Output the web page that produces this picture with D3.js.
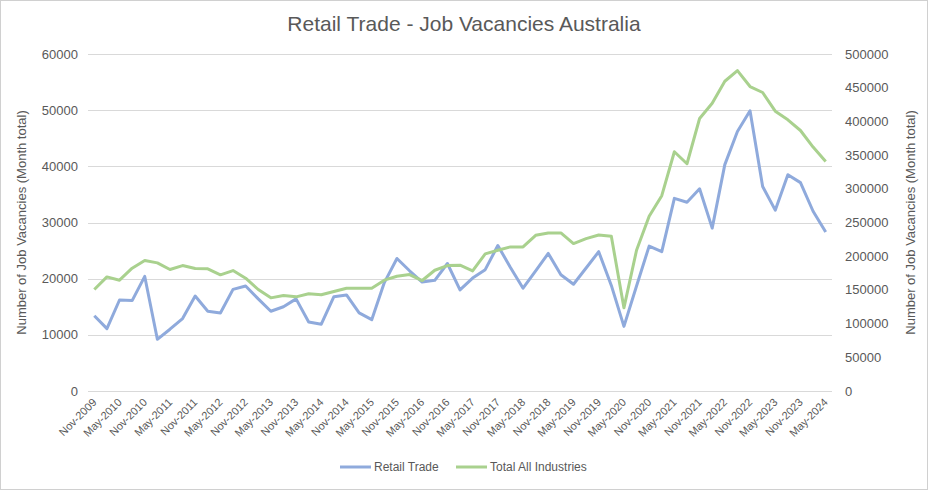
<!DOCTYPE html>
<html>
<head>
<meta charset="utf-8">
<script src="https://cdn.jsdelivr.net/npm/d3@7"></script>
<style>
  body { margin: 0; background: #fff; }
  svg { font-family: "Liberation Sans", Arial, sans-serif; }
</style>
</head>
<body>
<div id="chart"></div>
<script>
// quarterly, Nov-2009 .. May-2024
var monthNames = ["Jan","Feb","Mar","Apr","May","Jun","Jul","Aug","Sep","Oct","Nov","Dec"];
var quarters = [];
for (var i = 0; i < 59; i++) {
  var m = 10 + i * 3; // months since Jan-2009 (Nov = 10)
  quarters.push(monthNames[m % 12] + "-" + (2009 + Math.floor(m / 12)));
}

var retail = [13400, 11100, 16200, 16100, 20400, 9200, 11000, 12900, 16900, 14200,
              13900, 18100, 18700, 16400, 14200, 15000, 16400, 12300, 11900, 16800,
              17100, 13900, 12700, 19300, 23600, 21400, 19400, 19700, 22700, 18000,
              20100, 21600, 25900, 22000, 18300, 21400, 24500, 20700, 19000, 21900,
              24800, 18800, 11500, 18700, 25800, 24800, 34300, 33600, 36000, 29000,
              40300, 46200, 49900, 36400, 32200, 38500, 37100, 32000, 28300];

var total = [150600, 169300, 164400, 182200, 193500, 190100, 180200, 186100, 181700, 181200,
             172300, 178700, 167400, 150600, 138200, 141700, 139700, 144200, 142700, 147600,
             152500, 152500, 152500, 164400, 170300, 172800, 163900, 179200, 186100, 186600,
             178200, 203400, 208800, 213800, 213800, 231000, 234500, 234500, 218700, 226100,
             231500, 229600, 123400, 208800, 259200, 289800, 355000, 337200, 404300, 427000,
             459600, 475400, 451700, 442900, 415200, 402400, 386500, 361900, 340600];

var leftTicks = [0, 10000, 20000, 30000, 40000, 50000, 60000];
var rightTicks = [0, 50000, 100000, 150000, 200000, 250000, 300000, 350000, 400000, 450000, 500000];

var width = 928, height = 490;
var margin = {top: 54, right: 96, bottom: 99, left: 88};
var textCol = "#595959";

var svg = d3.select("#chart").append("svg")
    .attr("width", width)
    .attr("height", height);

svg.append("rect")
    .attr("x", 0.5).attr("y", 0.5)
    .attr("width", width - 1).attr("height", height - 1)
    .attr("fill", "#fff")
    .attr("stroke", "#d0d0d0");

var x = d3.scalePoint()
    .domain(quarters)
    .range([margin.left, width - margin.right])
    .padding(0.5);

var yL = d3.scaleLinear().domain([0, 60000]).range([height - margin.bottom, margin.top]);
var yR = d3.scaleLinear().domain([0, 500000]).range([height - margin.bottom, margin.top]);

// gridlines
svg.append("g")
  .selectAll("line")
  .data(leftTicks)
  .enter().append("line")
    .attr("x1", margin.left)
    .attr("x2", width - margin.right)
    .attr("y1", function(d) { return Math.round(yL(d)) + 0.5; })
    .attr("y2", function(d) { return Math.round(yL(d)) + 0.5; })
    .attr("stroke", "#d9d9d9")
    .attr("stroke-width", 1);

// left axis labels
svg.append("g")
  .selectAll("text")
  .data(leftTicks)
  .enter().append("text")
    .attr("x", 78)
    .attr("y", function(d) { return yL(d); })
    .attr("dy", "0.35em")
    .attr("text-anchor", "end")
    .attr("font-size", 13)
    .attr("fill", textCol)
    .text(function(d) { return d; });

// right axis labels
svg.append("g")
  .selectAll("text")
  .data(rightTicks)
  .enter().append("text")
    .attr("x", 845)
    .attr("y", function(d) { return yR(d); })
    .attr("dy", "0.35em")
    .attr("text-anchor", "start")
    .attr("font-size", 13)
    .attr("fill", textCol)
    .text(function(d) { return d; });

// x labels, every second quarter
var xl = svg.append("g");
quarters.forEach(function(q, i) {
  if (i % 2 !== 0) return;
  xl.append("text")
    .attr("transform", "translate(" + (x(q) + 3) + "," + (height - margin.bottom + 12) + ") rotate(-45)")
    .attr("text-anchor", "end")
    .attr("font-size", 11)
    .attr("fill", textCol)
    .text(q);
});

// axis titles
svg.append("text")
    .attr("transform", "translate(26," + ((margin.top + height - margin.bottom) / 2) + ") rotate(-90)")
    .attr("text-anchor", "middle")
    .attr("font-size", 13)
    .attr("fill", textCol)
    .text("Number of Job Vacancies (Month total)");

svg.append("text")
    .attr("transform", "translate(915," + ((margin.top + height - margin.bottom) / 2) + ") rotate(-90)")
    .attr("text-anchor", "middle")
    .attr("font-size", 13)
    .attr("fill", textCol)
    .text("Number of Job Vacancies (Month total)");

// title
svg.append("text")
    .attr("x", width / 2)
    .attr("y", 31)
    .attr("text-anchor", "middle")
    .attr("font-size", 21)
    .attr("fill", textCol)
    .text("Retail Trade - Job Vacancies Australia");

// lines
var lineL = d3.line()
    .x(function(d, i) { return x(quarters[i]); })
    .y(function(d) { return yL(d); });
var lineR = d3.line()
    .x(function(d, i) { return x(quarters[i]); })
    .y(function(d) { return yR(d); });

svg.append("path")
    .datum(retail)
    .attr("d", lineL)
    .attr("fill", "none")
    .attr("stroke", "#8faadc")
    .attr("stroke-width", 3)
    .attr("stroke-linejoin", "round");

svg.append("path")
    .datum(total)
    .attr("d", lineR)
    .attr("fill", "none")
    .attr("stroke", "#a9d18e")
    .attr("stroke-width", 3)
    .attr("stroke-linejoin", "round");

// legend
var legend = [
  {name: "Retail Trade", color: "#8faadc", x: 340},
  {name: "Total All Industries", color: "#a9d18e", x: 456}
];
var lg = svg.append("g");
legend.forEach(function(l) {
  lg.append("line")
    .attr("x1", l.x).attr("x2", l.x + 31)
    .attr("y1", 467).attr("y2", 467)
    .attr("stroke", l.color)
    .attr("stroke-width", 3);
  lg.append("text")
    .attr("x", l.x + 34)
    .attr("y", 467)
    .attr("dy", "0.35em")
    .attr("font-size", 12)
    .attr("fill", textCol)
    .text(l.name);
});
</script>
</body>
</html>
